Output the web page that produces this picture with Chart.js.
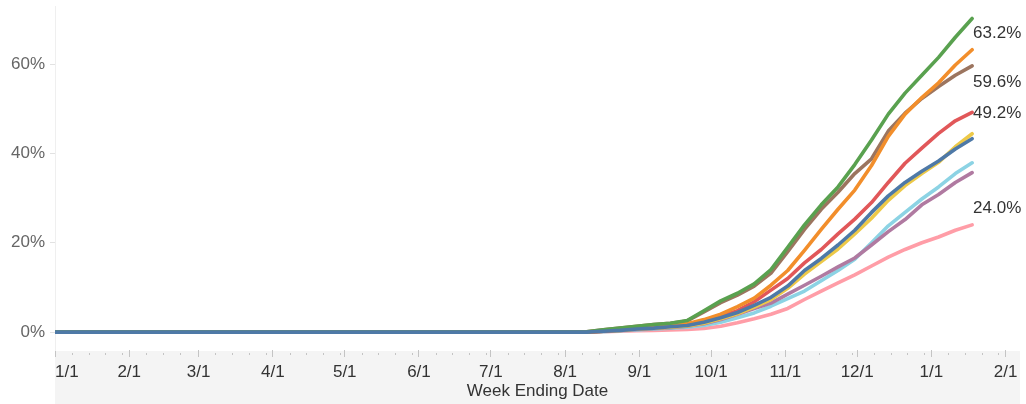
<!DOCTYPE html>
<html><head><meta charset="utf-8">
<script src="https://cdn.jsdelivr.net/npm/chart.js@4.4.1/dist/chart.umd.min.js"></script>
<style>
html,body{margin:0;padding:0;background:#fff;}
#wrap{width:1026px;height:404px;position:relative;}
</style></head><body>
<div id="wrap"><canvas id="c" width="1026" height="404"></canvas></div>
<script>
const F='"Liberation Sans", Arial, sans-serif';
const START='2020-01-01';

// week ending dates (first entry = start of the flat part)
const weekDates=['2020-01-01','2020-08-10','2020-08-17','2020-08-24','2020-08-31','2020-09-07','2020-09-14',
  '2020-09-21','2020-09-28','2020-10-05','2020-10-12','2020-10-19','2020-10-26','2020-11-02','2020-11-09',
  '2020-11-16','2020-11-23','2020-11-30','2020-12-07','2020-12-14','2020-12-21','2020-12-28','2021-01-04',
  '2021-01-11','2021-01-18'];

const monthTicks=['2020-01-01','2020-02-01','2020-03-01','2020-04-01','2020-05-01','2020-06-01','2020-07-01',
  '2020-08-01','2020-09-01','2020-10-01','2020-11-01','2020-12-01','2021-01-01','2021-02-01'];
const monthLabels=['1/1','2/1','3/1','4/1','5/1','6/1','7/1','8/1','9/1','10/1','11/1','12/1','1/1','2/1'];
const yTicks=[0,20,40,60];

// percent values
const blueVals  =[0,0.0,0.2,0.4,0.7,0.9,1.2,1.5,2.2,3.2,4.4,6.0,7.8,10.3,13.8,16.5,19.5,22.8,26.8,30.5,33.5,36.0,38.3,41.0,43.3];
const greenVals =[0,0.1,0.5,0.9,1.3,1.7,2.0,2.6,4.8,7.0,8.7,10.8,14.0,19.0,24.0,28.5,32.5,37.5,43.0,48.8,53.5,57.5,61.5,66.0,70.2];
const orangeVals=[0,0.0,0.3,0.6,0.9,1.2,1.5,1.9,2.8,4.0,5.7,7.6,10.5,13.8,18.3,23.0,27.5,31.8,37.3,43.8,48.8,52.5,55.8,59.8,63.2];
const brownVals =[0,0.1,0.5,0.9,1.3,1.7,2.0,2.5,4.5,6.6,8.3,10.3,13.2,18.0,23.0,27.5,31.3,35.5,38.8,45.0,49.0,52.3,55.0,57.5,59.6];
const redVals   =[0,0.0,0.2,0.5,0.8,1.1,1.4,1.8,2.5,3.5,4.8,6.8,9.4,12.0,15.5,18.5,22.0,25.3,29.0,33.5,37.8,41.2,44.5,47.3,49.2];
const yellowVals=[0,0.0,0.2,0.4,0.7,0.9,1.1,1.4,2.0,3.0,4.1,5.6,7.3,9.8,13.0,15.8,18.6,22.0,25.5,29.5,32.8,35.5,38.0,41.5,44.4];
const purpleVals=[0,0.0,0.2,0.4,0.6,0.8,1.0,1.3,1.9,2.8,4.0,5.3,6.5,8.5,10.5,12.5,14.6,16.6,19.5,22.5,25.2,28.5,30.8,33.5,35.7];
const cyanVals  =[0,0.0,0.1,0.3,0.5,0.7,0.9,1.1,1.5,2.2,3.2,4.3,5.8,7.5,9.2,11.5,13.8,16.3,20.0,23.8,26.8,29.8,32.5,35.5,37.9];
const pinkVals  =[0,0.0,0.1,0.2,0.3,0.4,0.5,0.6,0.8,1.3,2.1,3.0,4.0,5.3,7.3,9.2,11.0,12.8,14.8,16.8,18.5,20.0,21.3,22.8,24.0];

const day=s=>Math.round((Date.parse(s)-Date.parse(START))/864e5);
const xDays=weekDates.map(day);
const X_MAX=403;

// draw order: first = on top
const series=[
  {key:'blue',  vals:blueVals,  color:'#4e79a7'},
  {key:'green', vals:greenVals, color:'#59a14f'},
  {key:'orange',vals:orangeVals,color:'#f28e2b'},
  {key:'brown', vals:brownVals, color:'#9c755f'},
  {key:'red',   vals:redVals,   color:'#e15759'},
  {key:'yellow',vals:yellowVals,color:'#edc948'},
  {key:'purple',vals:purpleVals,color:'#b07aa1'},
  {key:'cyan',  vals:cyanVals,  color:'#8cd3e4'},
  {key:'pink',  vals:pinkVals,  color:'#ff9da7'}
];

// end labels: which series, vertical nudge
const endLabelNudge={orange:-16,brown:16,red:1,pink:-17};

const axisBand={
  id:'axisBand',
  beforeDraw(chart){
    const {ctx,chartArea:a}=chart;
    ctx.save();
    ctx.fillStyle='#f4f4f4';
    ctx.fillRect(a.left,a.bottom+1,a.right-a.left,chart.height-a.bottom);
    ctx.restore();
  },
  afterDraw(chart){
    // small weekly ticks inside each month
    const {ctx,chartArea:a}=chart;
    const xs=chart.scales.x;
    ctx.save();
    ctx.fillStyle='#c4c4c4';
    for(let i=0;i<monthTicks.length-1;i++){
      const d0=day(monthTicks[i]),d1=day(monthTicks[i+1]);
      [7,14,21,28].forEach(k=>{
        if(d0+k<d1-1){
          const px=Math.round(xs.getPixelForValue(d0+k));
          ctx.fillRect(px,a.bottom+3,1,2);
        }
      });
    }
    ctx.restore();
  }
};

const endLabels={
  id:'endLabels',
  afterDatasetsDraw(chart){
    const {ctx}=chart;
    ctx.save();
    ctx.font='17px '+F;
    ctx.fillStyle='#333';
    ctx.textAlign='left';
    ctx.textBaseline='middle';
    chart.data.datasets.forEach((ds,i)=>{
      const dy=endLabelNudge[ds.key];
      if(dy==null)return;
      const pts=chart.getDatasetMeta(i).data;
      const p=pts[pts.length-1];
      const v=ds.data[ds.data.length-1].y;
      ctx.fillText(v.toFixed(1)+'%',p.x+1,p.y+dy);
    });
    ctx.restore();
  }
};

new Chart(document.getElementById('c'),{
  type:'line',
  plugins:[axisBand,endLabels],
  data:{
    datasets:series.map(s=>({
      key:s.key,
      data:s.vals.map((v,i)=>({x:xDays[i],y:v})),
      borderColor:s.color,
      borderWidth:3.6,
      pointRadius:0,
      tension:0,
      borderCapStyle:'round',
      borderJoinStyle:'round',
      fill:false
    }))
  },
  options:{
    responsive:false,
    animation:false,
    devicePixelRatio:1,
    layout:{padding:{top:6,right:6,left:0,bottom:0}},
    plugins:{legend:{display:false},tooltip:{enabled:false}},
    scales:{
      x:{
        type:'linear',min:0,max:X_MAX,
        afterBuildTicks:s=>{s.ticks=monthTicks.map(d=>({value:day(d)})).concat([{value:X_MAX}]);},
        ticks:{autoSkip:false,maxRotation:0,minRotation:0,align:'inner',color:'#333',
          font:{family:F,size:17},padding:5,callback:(v,i)=>monthLabels[i]||''},
        grid:{drawOnChartArea:false,tickLength:7,
          color:c=>c.index<monthTicks.length?'#c4c4c4':'rgba(0,0,0,0)'},
        border:{display:false},
        title:{display:true,text:'Week Ending Date',color:'#333',font:{family:F,size:17},padding:{top:0,bottom:2}},
        afterFit:s=>{s.height=54;s.paddingLeft=0;s.paddingRight=0;}
      },
      y:{
        min:-4,max:73,
        afterBuildTicks:s=>{s.ticks=yTicks.map(v=>({value:v}));},
        ticks:{color:'#666',font:{family:F,size:17},padding:5,callback:v=>v+'%'},
        grid:{drawOnChartArea:false,tickLength:5,color:'#e2e2e2'},
        border:{display:true,color:'#efefef'},
        afterFit:s=>{s.width=55;s.paddingTop=0;s.paddingBottom=0;}
      }
    }
  }
});
</script>
</body></html>
